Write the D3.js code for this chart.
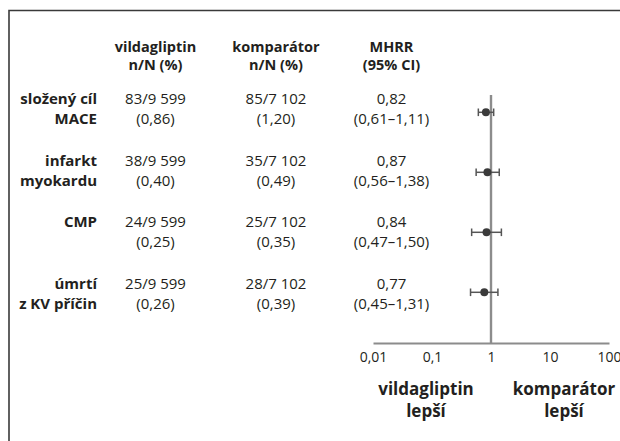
<!DOCTYPE html>
<html>
<head>
<meta charset="utf-8">
<script src="https://cdn.jsdelivr.net/npm/d3@7"></script>
<style>
  html, body { margin: 0; padding: 0; background: #fff; overflow: hidden; }
  svg { display: block; font-family: "Open Sans", "Noto Sans", sans-serif; }
</style>
</head>
<body>
<svg id="chart" width="620" height="441"></svg>
<script>
// Outcomes (row labels, possibly two lines)
const outcomes = [
  ["složený cíl", "MACE"],
  ["infarkt", "myokardu"],
  ["CMP"],
  ["úmrtí", "z KV příčin"]
];

// Events / totals / percentages per arm
const vildEvents = [83, 38, 24, 25];
const vildTotal = 9599;
const vildPct = [0.86, 0.40, 0.25, 0.26];

const compEvents = [85, 35, 25, 28];
const compTotal = 7102;
const compPct = [1.20, 0.49, 0.35, 0.39];

// Mantel–Haenszel risk ratio with 95% CI
const mhrr = [0.82, 0.87, 0.84, 0.77];
const ciLow = [0.61, 0.56, 0.47, 0.45];
const ciHigh = [1.11, 1.38, 1.50, 1.31];

// Axis ticks and their labels
const tickValues = [0.01, 0.1, 1, 10, 100];
const tickLabels = ["0,01", "0,1", "1", "10", "100"];

const headers = [
  ["vildagliptin", "n/N (%)"],
  ["komparátor", "n/N (%)"],
  ["MHRR", "(95% CI)"]
];
const favours = [["vildagliptin", "lepší"], ["komparátor", "lepší"]];

const cz = d3.formatLocale({ decimal: ",", thousands: " ", grouping: [3], currency: ["", " Kč"] });
const fInt = cz.format(",d");
const f2 = cz.format(".2f");

const svg = d3.select("#chart");
const ink = "#231f20";

// frame (top and left edges)
svg.append("path")
  .attr("d", "M9,441V10.5H620")
  .attr("fill", "none")
  .attr("stroke", "#3a3a3a")
  .attr("stroke-width", 1.6);

// column centres
const colX = [155.5, 276, 391.5];
const labelRight = 97;

// row positions
const idx = d3.range(outcomes.length);
const rowText = d3.scalePoint().domain(idx).range([104, 289]);
const rowMark = d3.scalePoint().domain(idx).range([112.3, 292.3]);
const lineGap = 20;

// log x scale
const x = d3.scaleLog().domain([0.01, 100]).range([373, 609]);
const axisY = 343;

// headers
const headTop = 51.5, headGap = 18.5;
headers.forEach((h, c) => {
  h.forEach((s, i) => {
    svg.append("text")
      .attr("x", colX[c]).attr("y", headTop + i * headGap)
      .attr("text-anchor", "middle")
      .attr("font-size", 14.5).attr("font-weight", 700).attr("fill", ink)
      .text(s);
  });
});

// row labels
idx.forEach(i => {
  outcomes[i].forEach((s, k) => {
    svg.append("text")
      .attr("x", labelRight).attr("y", rowText(i) + k * lineGap)
      .attr("text-anchor", "end")
      .attr("font-size", 15).attr("font-weight", 700).attr("fill", ink)
      .text(s);
  });
});

// table cells
function cell(cx, y, lines) {
  lines.forEach((s, k) => {
    svg.append("text")
      .attr("x", cx).attr("y", y + k * lineGap)
      .attr("text-anchor", "middle")
      .attr("font-size", 15).attr("fill", ink)
      .text(s);
  });
}
idx.forEach(i => {
  const y = rowText(i);
  cell(colX[0], y, [`${vildEvents[i]}/${fInt(vildTotal)}`, `(${f2(vildPct[i])})`]);
  cell(colX[1], y, [`${compEvents[i]}/${fInt(compTotal)}`, `(${f2(compPct[i])})`]);
  cell(colX[2], y, [f2(mhrr[i]), `(${f2(ciLow[i])}–${f2(ciHigh[i])})`]);
});

// axis
const axis = d3.axisBottom(x)
  .tickValues(tickValues)
  .tickSize(0)
  .tickPadding(8.8)
  .tickFormat((d, i) => tickLabels[i]);
const gAxis = svg.append("g").attr("transform", `translate(0,${axisY})`).call(axis);
gAxis.select(".domain").attr("stroke", "#8c8c8c").attr("stroke-width", 2.2);
gAxis.selectAll("text")
  .attr("font-size", 14).attr("fill", ink)
  .attr("font-family", "\"Open Sans\", \"Noto Sans\", sans-serif");

// line of no effect
svg.append("line")
  .attr("x1", x(1)).attr("x2", x(1))
  .attr("y1", 95).attr("y2", axisY)
  .attr("stroke", "#8c8c8c").attr("stroke-width", 2.4);

// CI whiskers and point estimates
const marks = svg.append("g");
idx.forEach(i => {
  const y = rowMark(i);
  const g = marks.append("g").attr("stroke", "#555").attr("stroke-width", 1.5);
  g.append("line").attr("x1", x(ciLow[i])).attr("x2", x(ciHigh[i])).attr("y1", y).attr("y2", y);
  g.append("line").attr("x1", x(ciLow[i])).attr("x2", x(ciLow[i])).attr("y1", y - 3.8).attr("y2", y + 3.8);
  g.append("line").attr("x1", x(ciHigh[i])).attr("x2", x(ciHigh[i])).attr("y1", y - 3.8).attr("y2", y + 3.8);
  marks.append("circle").attr("cx", x(mhrr[i])).attr("cy", y).attr("r", 4).attr("fill", "#3a3a3a");
});

// favours labels
const favX = [426, 564];
favours.forEach((f, c) => {
  f.forEach((s, k) => {
    svg.append("text")
      .attr("x", favX[c]).attr("y", 395 + k * 22)
      .attr("text-anchor", "middle")
      .attr("font-size", 17).attr("font-weight", 700).attr("fill", ink)
      .text(s);
  });
});
</script>
</body>
</html>
